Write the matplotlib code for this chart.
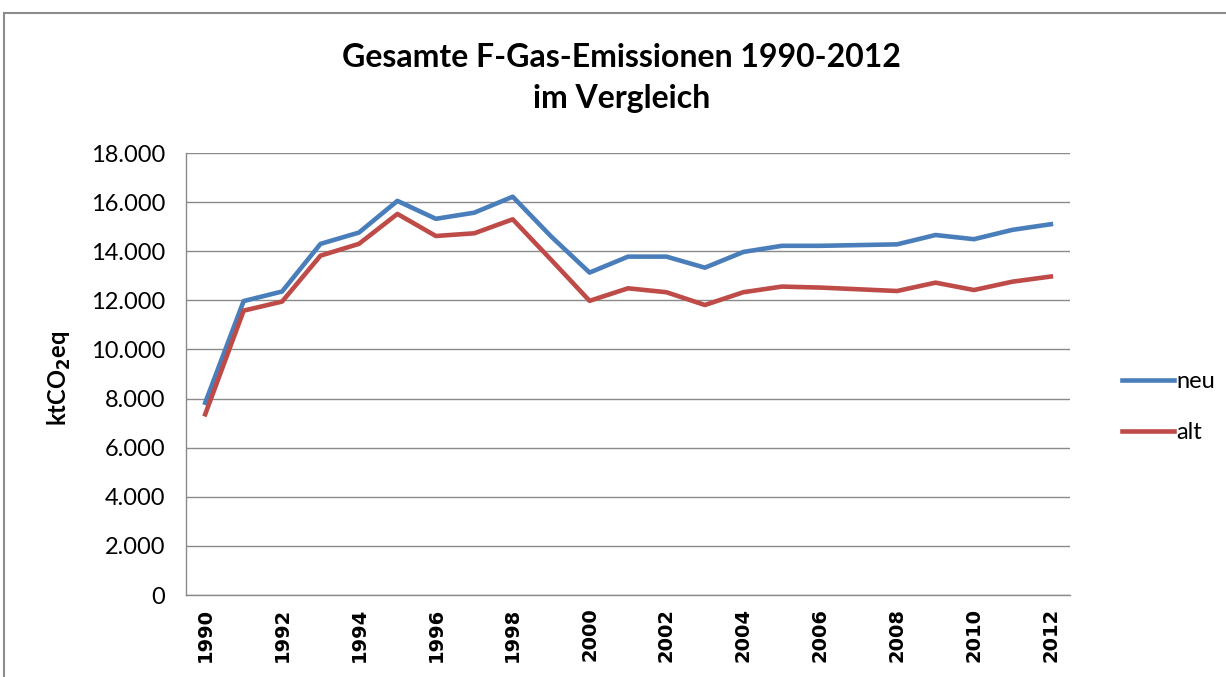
import matplotlib
matplotlib.use("Agg")
import matplotlib.pyplot as plt
from matplotlib.patches import Rectangle
from matplotlib.ticker import FuncFormatter

years = list(range(1990, 2013))
neu = [7830, 11970, 12360, 14300, 14760, 16050, 15320, 15570, 16220, 14600,
       13130, 13780, 13780, 13330, 13970, 14220, 14220, 14250, 14280, 14660,
       14490, 14870, 15100]
alt = [7360, 11580, 11950, 13820, 14300, 15520, 14620, 14730, 15300, 13650,
       11980, 12490, 12330, 11810, 12330, 12560, 12520, 12450, 12380, 12720,
       12420, 12760, 12970]
tick_years = years[::2]

plt.rcParams['font.family'] = ['Lato', 'DejaVu Sans']

fig = plt.figure(figsize=(12.26, 6.77), dpi=100)
ax = fig.add_axes([0.1517, 0.1211, 0.7211, 0.6529])

# Rahmen des Diagrammbereichs
fig.patches.append(Rectangle((4 / 1226, -0.05), 1.1, 1 - 13 / 677 + 0.05,
                             transform=fig.transFigure, fill=False,
                             edgecolor='#8c8c8c', linewidth=1.5))

ax.plot(years, neu, color='#4A7EBB', linewidth=3.3, label='neu')
ax.plot(years, alt, color='#BE4B48', linewidth=3.3, label='alt')

ax.set_xlim(1989.5, 2012.5)
ax.set_ylim(0, 18000)
ax.set_yticks(range(0, 18001, 2000))
ax.yaxis.set_major_formatter(FuncFormatter(lambda v, p: f"{int(v):,}".replace(",", ".")))
ax.set_xticks(tick_years)
ax.set_xticklabels([str(y) for y in tick_years], rotation=90,
                   fontfamily='DejaVu Sans', fontweight='bold', fontsize=14)
ax.tick_params(axis='y', labelsize=17, length=0, pad=15)
ax.tick_params(axis='x', length=0, pad=9)

ax.grid(axis='y', color='#8a8a8a', linewidth=1)
ax.set_axisbelow(True)
for s in ['top', 'right']:
    ax.spines[s].set_visible(False)
for s in ['left', 'bottom']:
    ax.spines[s].set_color('#8a8a8a')
    ax.spines[s].set_linewidth(1)

ax.set_ylabel('ktCO$_\\mathbf{2}$eq', fontsize=17, fontweight='bold')
ax.yaxis.set_label_coords(-0.128, 0.49)

fig.text(0.507, 0.885, 'Gesamte F-Gas-Emissionen 1990-2012\nim Vergleich',
         ha='center', va='center', fontsize=23, fontweight='bold',
         linespacing=1.5)

ax.legend(loc='center left', bbox_to_anchor=(1.035, 0.425), frameon=False,
          fontsize=17, handlelength=2.2, handletextpad=0.1, labelspacing=1.25)

fig.savefig('out.png', dpi=100)
